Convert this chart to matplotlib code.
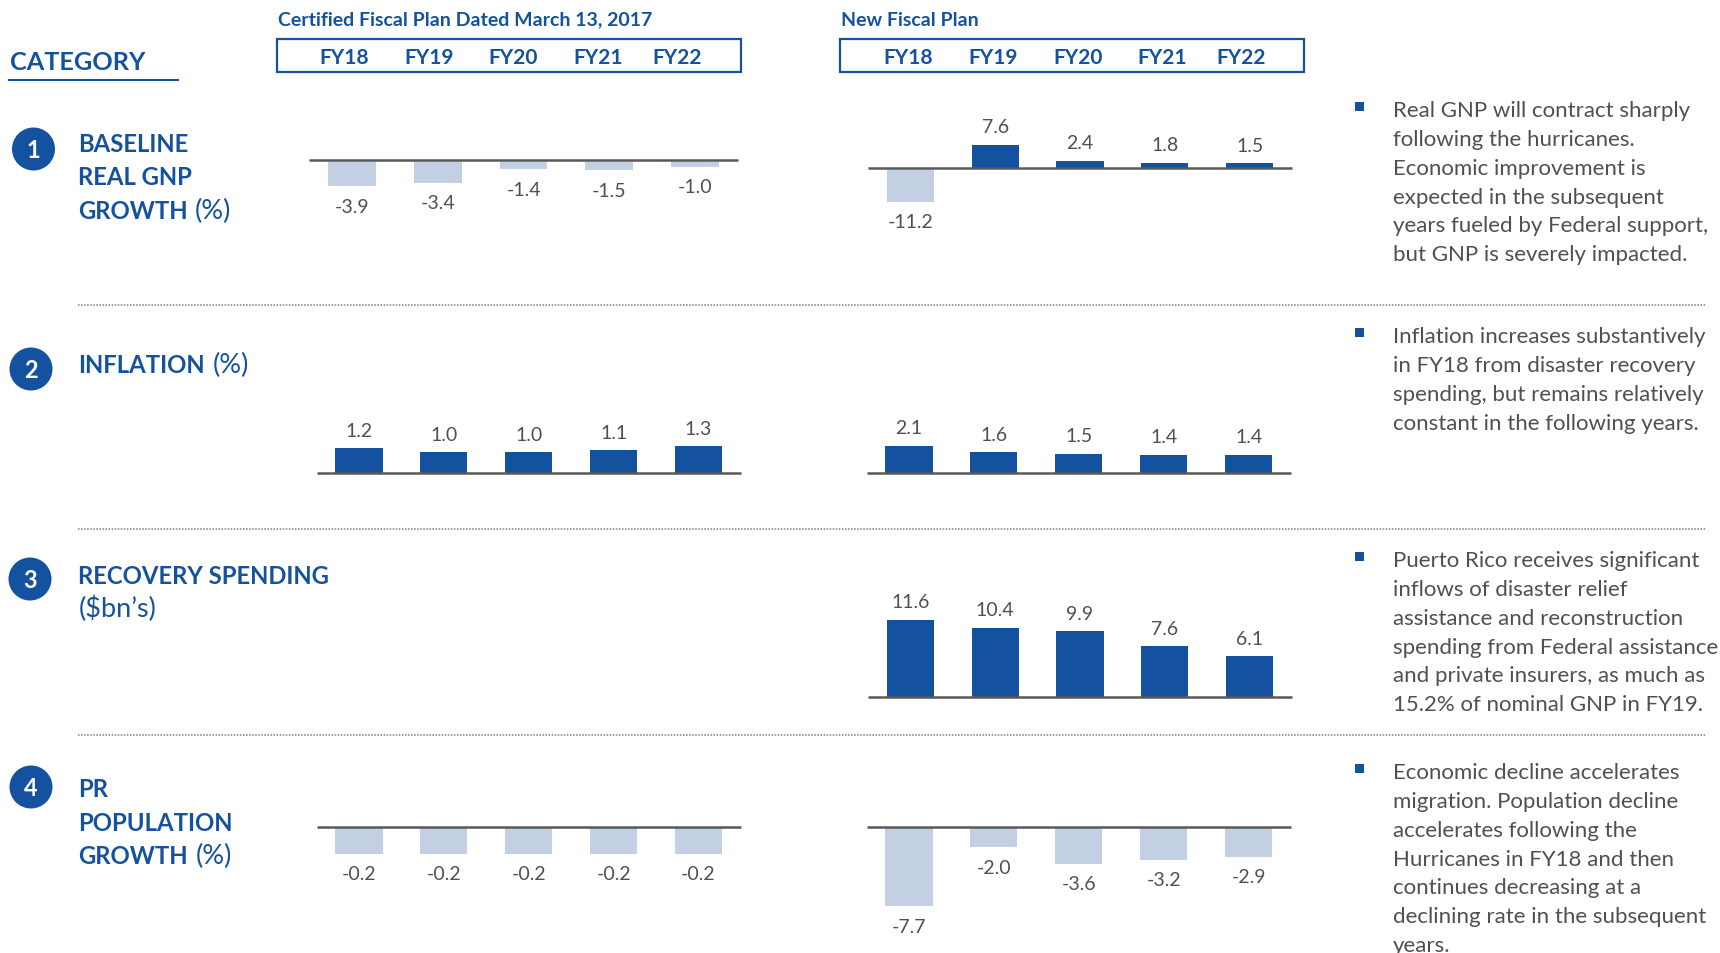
import matplotlib
matplotlib.use("Agg")
import matplotlib.pyplot as plt
from matplotlib.patches import Circle, Rectangle

plt.rcParams['font.family'] = ['Lato', 'DejaVu Sans']

W, H = 1720, 954
BLUE = '#14529F'
LIGHT = '#C3CFE2'
GREY = '#505050'

years = ['FY18', 'FY19', 'FY20', 'FY21', 'FY22']

# values
gnp_cert = [-3.9, -3.4, -1.4, -1.5, -1.0]
gnp_new = [-11.2, 7.6, 2.4, 1.8, 1.5]
infl_cert = [1.2, 1.0, 1.0, 1.1, 1.3]
infl_new = [2.1, 1.6, 1.5, 1.4, 1.4]
recovery_new = [11.6, 10.4, 9.9, 7.6, 6.1]
pop_cert = [-0.2, -0.2, -0.2, -0.2, -0.2]
pop_new = [-7.7, -2.0, -3.6, -3.2, -2.9]

notes_gnp = ['Real GNP will contract sharply', 'following the hurricanes.',
             'Economic improvement is', 'expected in the subsequent',
             'years fueled by Federal support,', 'but GNP is severely impacted.']
notes_infl = ['Inflation increases substantively', 'in FY18 from disaster recovery',
              'spending, but remains relatively', 'constant in the following years.']
notes_recovery = ['Puerto Rico receives significant', 'inflows of disaster relief',
                  'assistance and reconstruction', 'spending from Federal assistance',
                  'and private insurers, as much as', '15.2% of nominal GNP in FY19.']
notes_pop = ['Economic decline accelerates', 'migration. Population decline',
             'accelerates following the', 'Hurricanes in FY18 and then',
             'continues decreasing at a', 'declining rate in the subsequent', 'years.']


def draw_panel(fig, values, x0, x1, base, scale):
    # axes is placed in pixels, scale = pixels per data unit
    half = 85
    ax = fig.add_axes([x0 / W, 1 - (base + half) / H, (x1 - x0) / W, 2 * half / H])
    ax.patch.set_alpha(0)
    colors = [BLUE if v > 0 else LIGHT for v in values]
    ax.bar(range(len(values)), values, width=0.555, color=colors, zorder=2)
    ax.set_xlim(-0.5, 4.5)
    ax.set_ylim(-half / scale, half / scale)
    for name in ['top', 'left', 'right']:
        ax.spines[name].set_visible(False)
    ax.spines['bottom'].set_position('zero')
    ax.spines['bottom'].set_color('#595959')
    ax.spines['bottom'].set_linewidth(1.8)
    ax.spines['bottom'].set_capstyle('butt')
    ax.spines['bottom'].set_zorder(3)
    ax.set_xticks([])
    ax.set_yticks([])
    for i, v in enumerate(values):
        off = 18 if v > 0 else -20
        ax.annotate(f'{v:.1f}', (i, v), xytext=(0, off * 0.72), textcoords='offset points',
                    ha='center', va='center', fontsize=14, color=GREY, annotation_clip=False)


fig = plt.figure(figsize=(W / 100, H / 100), dpi=100, facecolor='white')

# full figure layer working in pixels, for the table furniture
bg = fig.add_axes([0, 0, 1, 1])
bg.set_xlim(0, W)
bg.set_ylim(H, 0)
bg.axis('off')

bg.text(278, 25.5, 'Certified Fiscal Plan Dated March 13, 2017', fontsize=14, fontweight='bold', color=BLUE)
bg.text(841, 25.5, 'New Fiscal Plan', fontsize=14, fontweight='bold', color=BLUE)
bg.text(10, 70, 'CATEGORY', fontsize=18.2, fontweight='bold', color=BLUE)
bg.plot([9, 178], [80.5, 80.5], color=BLUE, lw=1.5)

for left, right, centers in [(276.5, 740.5, [344, 429, 513.5, 598, 677.5]),
                             (839.5, 1304, [908, 993, 1078, 1162, 1241])]:
    bg.add_patch(Rectangle((left, 39.5), right - left, 33, fill=False, ec=BLUE, lw=1.6))
    for c, y in zip(centers, years):
        bg.text(c, 64, y, ha='center', fontsize=15, fontweight='bold', color=BLUE)

for y in [305.7, 529.7, 736.3]:
    bg.plot([78, 1706], [y, y], color='#7f7f7f', lw=1.1, ls=(0, (1, 1)))

for num, cx, cy in [('1', 33.5, 150), ('2', 31, 370), ('3', 30, 580), ('4', 31, 788)]:
    bg.add_patch(Circle((cx, cy), 21.5, color=BLUE, lw=0))
    bg.text(cx, cy + 0.5, num, color='white', ha='center', va='center', fontsize=17, fontweight='bold')

heads = [('BASELINE', 152), ('REAL GNP', 185), ('GROWTH', 219), ('INFLATION', 373),
         ('RECOVERY SPENDING', 584), ('PR', 797), ('POPULATION', 831), ('GROWTH', 864)]
for s, y in heads:
    bg.text(78.5, y, s, fontsize=17.2, fontweight='bold', color=BLUE)
for s, x, y in [('(%)', 195, 219), ('(%)', 213, 373), ("($bn’s)", 78.5, 617), ('(%)', 195.5, 864)]:
    bg.text(x, y, s, fontsize=19.5, color=BLUE)

for lines, bullet_y, first in [(notes_gnp, 107, 117), (notes_infl, 333, 343),
                               (notes_recovery, 557, 567), (notes_pop, 769, 779)]:
    bg.add_patch(Rectangle((1355, bullet_y - 4.5), 9, 9, color=BLUE, lw=0))
    for i, line in enumerate(lines):
        bg.text(1393, first + i * 28.85, line, fontsize=16, color=GREY)

draw_panel(fig, gnp_cert, 309, 738, 161, 6.67)
draw_panel(fig, gnp_new, 868, 1292, 169, 3.03)
draw_panel(fig, infl_cert, 316.5, 741, 474, 20.7)
draw_panel(fig, infl_new, 866.5, 1291, 474, 12.9)
draw_panel(fig, recovery_new, 868, 1292, 697.7, 6.63)
draw_panel(fig, pop_cert, 316.5, 741, 827.7, 135)
draw_panel(fig, pop_new, 866.5, 1291, 827.7, 10.3)

fig.savefig('out.png', dpi=100)
